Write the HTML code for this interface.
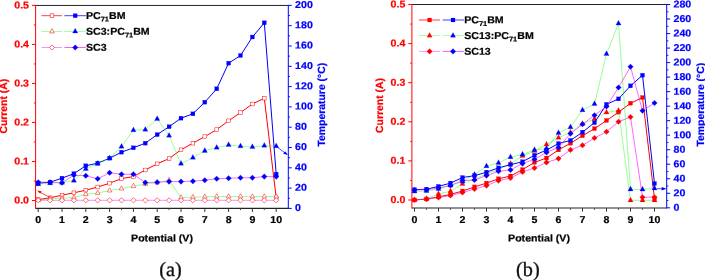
<!DOCTYPE html>
<html><head><meta charset="utf-8"><title>Current and temperature vs potential</title>
<style>
html,body{margin:0;padding:0;background:#fff;}
svg{display:block;font-family:"Liberation Sans",sans-serif;text-rendering:geometricPrecision;}
.cap{font-family:"Liberation Serif",serif;}
</style></head><body>
<svg width="705" height="280" viewBox="0 0 705 280">
<rect width="705" height="280" fill="#fff"/>
<line x1="35.6" y1="5.45" x2="288.3" y2="5.45" stroke="#222" stroke-width="1"/>
<line x1="35.6" y1="208.4" x2="288.3" y2="208.4" stroke="#222" stroke-width="1.1"/>
<line x1="38.20" y1="208.4" x2="38.20" y2="212.0" stroke="#333" stroke-width="1"/>
<text transform="translate(38.20,223.10) scale(1.06,1) rotate(0.05)" text-anchor="middle" font-size="10" font-weight="bold" fill="#000" stroke="#000" stroke-width="0.22">0</text>
<line x1="50.10" y1="208.4" x2="50.10" y2="210.20000000000002" stroke="#444" stroke-width="0.9"/>
<line x1="62.00" y1="208.4" x2="62.00" y2="212.0" stroke="#333" stroke-width="1"/>
<text transform="translate(62.00,223.10) scale(1.06,1) rotate(0.05)" text-anchor="middle" font-size="10" font-weight="bold" fill="#000" stroke="#000" stroke-width="0.22">1</text>
<line x1="73.90" y1="208.4" x2="73.90" y2="210.20000000000002" stroke="#444" stroke-width="0.9"/>
<line x1="85.80" y1="208.4" x2="85.80" y2="212.0" stroke="#333" stroke-width="1"/>
<text transform="translate(85.80,223.10) scale(1.06,1) rotate(0.05)" text-anchor="middle" font-size="10" font-weight="bold" fill="#000" stroke="#000" stroke-width="0.22">2</text>
<line x1="97.70" y1="208.4" x2="97.70" y2="210.20000000000002" stroke="#444" stroke-width="0.9"/>
<line x1="109.60" y1="208.4" x2="109.60" y2="212.0" stroke="#333" stroke-width="1"/>
<text transform="translate(109.60,223.10) scale(1.06,1) rotate(0.05)" text-anchor="middle" font-size="10" font-weight="bold" fill="#000" stroke="#000" stroke-width="0.22">3</text>
<line x1="121.50" y1="208.4" x2="121.50" y2="210.20000000000002" stroke="#444" stroke-width="0.9"/>
<line x1="133.40" y1="208.4" x2="133.40" y2="212.0" stroke="#333" stroke-width="1"/>
<text transform="translate(133.40,223.10) scale(1.06,1) rotate(0.05)" text-anchor="middle" font-size="10" font-weight="bold" fill="#000" stroke="#000" stroke-width="0.22">4</text>
<line x1="145.30" y1="208.4" x2="145.30" y2="210.20000000000002" stroke="#444" stroke-width="0.9"/>
<line x1="157.20" y1="208.4" x2="157.20" y2="212.0" stroke="#333" stroke-width="1"/>
<text transform="translate(157.20,223.10) scale(1.06,1) rotate(0.05)" text-anchor="middle" font-size="10" font-weight="bold" fill="#000" stroke="#000" stroke-width="0.22">5</text>
<line x1="169.10" y1="208.4" x2="169.10" y2="210.20000000000002" stroke="#444" stroke-width="0.9"/>
<line x1="181.00" y1="208.4" x2="181.00" y2="212.0" stroke="#333" stroke-width="1"/>
<text transform="translate(181.00,223.10) scale(1.06,1) rotate(0.05)" text-anchor="middle" font-size="10" font-weight="bold" fill="#000" stroke="#000" stroke-width="0.22">6</text>
<line x1="192.90" y1="208.4" x2="192.90" y2="210.20000000000002" stroke="#444" stroke-width="0.9"/>
<line x1="204.80" y1="208.4" x2="204.80" y2="212.0" stroke="#333" stroke-width="1"/>
<text transform="translate(204.80,223.10) scale(1.06,1) rotate(0.05)" text-anchor="middle" font-size="10" font-weight="bold" fill="#000" stroke="#000" stroke-width="0.22">7</text>
<line x1="216.70" y1="208.4" x2="216.70" y2="210.20000000000002" stroke="#444" stroke-width="0.9"/>
<line x1="228.60" y1="208.4" x2="228.60" y2="212.0" stroke="#333" stroke-width="1"/>
<text transform="translate(228.60,223.10) scale(1.06,1) rotate(0.05)" text-anchor="middle" font-size="10" font-weight="bold" fill="#000" stroke="#000" stroke-width="0.22">8</text>
<line x1="240.50" y1="208.4" x2="240.50" y2="210.20000000000002" stroke="#444" stroke-width="0.9"/>
<line x1="252.40" y1="208.4" x2="252.40" y2="212.0" stroke="#333" stroke-width="1"/>
<text transform="translate(252.40,223.10) scale(1.06,1) rotate(0.05)" text-anchor="middle" font-size="10" font-weight="bold" fill="#000" stroke="#000" stroke-width="0.22">9</text>
<line x1="264.30" y1="208.4" x2="264.30" y2="210.20000000000002" stroke="#444" stroke-width="0.9"/>
<line x1="276.20" y1="208.4" x2="276.20" y2="212.0" stroke="#333" stroke-width="1"/>
<text transform="translate(276.20,223.10) scale(1.06,1) rotate(0.05)" text-anchor="middle" font-size="10" font-weight="bold" fill="#000" stroke="#000" stroke-width="0.22">10</text>
<line x1="35.6" y1="4.95" x2="35.6" y2="208.9" stroke="#ff0000" stroke-width="1"/>
<line x1="32.0" y1="200.50" x2="35.6" y2="200.50" stroke="#ff0000" stroke-width="1"/>
<text transform="translate(29.00,203.50) scale(1.06,1) rotate(0.05)" text-anchor="end" font-size="10" font-weight="bold" fill="#ff0000" stroke="#ff0000" stroke-width="0.22">0.0</text>
<line x1="33.800000000000004" y1="180.99" x2="35.6" y2="180.99" stroke="#ff0000" stroke-width="0.9"/>
<line x1="32.0" y1="161.48" x2="35.6" y2="161.48" stroke="#ff0000" stroke-width="1"/>
<text transform="translate(29.00,164.48) scale(1.06,1) rotate(0.05)" text-anchor="end" font-size="10" font-weight="bold" fill="#ff0000" stroke="#ff0000" stroke-width="0.22">0.1</text>
<line x1="33.800000000000004" y1="141.97" x2="35.6" y2="141.97" stroke="#ff0000" stroke-width="0.9"/>
<line x1="32.0" y1="122.46" x2="35.6" y2="122.46" stroke="#ff0000" stroke-width="1"/>
<text transform="translate(29.00,125.46) scale(1.06,1) rotate(0.05)" text-anchor="end" font-size="10" font-weight="bold" fill="#ff0000" stroke="#ff0000" stroke-width="0.22">0.2</text>
<line x1="33.800000000000004" y1="102.95" x2="35.6" y2="102.95" stroke="#ff0000" stroke-width="0.9"/>
<line x1="32.0" y1="83.44" x2="35.6" y2="83.44" stroke="#ff0000" stroke-width="1"/>
<text transform="translate(29.00,86.44) scale(1.06,1) rotate(0.05)" text-anchor="end" font-size="10" font-weight="bold" fill="#ff0000" stroke="#ff0000" stroke-width="0.22">0.3</text>
<line x1="33.800000000000004" y1="63.93" x2="35.6" y2="63.93" stroke="#ff0000" stroke-width="0.9"/>
<line x1="32.0" y1="44.42" x2="35.6" y2="44.42" stroke="#ff0000" stroke-width="1"/>
<text transform="translate(29.00,47.42) scale(1.06,1) rotate(0.05)" text-anchor="end" font-size="10" font-weight="bold" fill="#ff0000" stroke="#ff0000" stroke-width="0.22">0.4</text>
<line x1="33.800000000000004" y1="24.91" x2="35.6" y2="24.91" stroke="#ff0000" stroke-width="0.9"/>
<line x1="32.0" y1="5.40" x2="35.6" y2="5.40" stroke="#ff0000" stroke-width="1"/>
<text transform="translate(29.00,8.40) scale(1.06,1) rotate(0.05)" text-anchor="end" font-size="10" font-weight="bold" fill="#ff0000" stroke="#ff0000" stroke-width="0.22">0.5</text>
<line x1="288.3" y1="4.95" x2="288.3" y2="208.9" stroke="#0000ff" stroke-width="1"/>
<line x1="288.3" y1="208.40" x2="291.7" y2="208.40" stroke="#0000ff" stroke-width="1"/>
<text transform="translate(295.10,211.00) scale(1.06,1) rotate(0.05)" text-anchor="start" font-size="10" font-weight="bold" fill="#0000ff" stroke="#0000ff" stroke-width="0.22">0</text>
<line x1="288.3" y1="198.25" x2="290.0" y2="198.25" stroke="#0000ff" stroke-width="0.9"/>
<line x1="288.3" y1="188.10" x2="291.7" y2="188.10" stroke="#0000ff" stroke-width="1"/>
<text transform="translate(295.10,190.70) scale(1.06,1) rotate(0.05)" text-anchor="start" font-size="10" font-weight="bold" fill="#0000ff" stroke="#0000ff" stroke-width="0.22">20</text>
<line x1="288.3" y1="177.95" x2="290.0" y2="177.95" stroke="#0000ff" stroke-width="0.9"/>
<line x1="288.3" y1="167.80" x2="291.7" y2="167.80" stroke="#0000ff" stroke-width="1"/>
<text transform="translate(295.10,170.40) scale(1.06,1) rotate(0.05)" text-anchor="start" font-size="10" font-weight="bold" fill="#0000ff" stroke="#0000ff" stroke-width="0.22">40</text>
<line x1="288.3" y1="157.65" x2="290.0" y2="157.65" stroke="#0000ff" stroke-width="0.9"/>
<line x1="288.3" y1="147.50" x2="291.7" y2="147.50" stroke="#0000ff" stroke-width="1"/>
<text transform="translate(295.10,150.10) scale(1.06,1) rotate(0.05)" text-anchor="start" font-size="10" font-weight="bold" fill="#0000ff" stroke="#0000ff" stroke-width="0.22">60</text>
<line x1="288.3" y1="137.35" x2="290.0" y2="137.35" stroke="#0000ff" stroke-width="0.9"/>
<line x1="288.3" y1="127.20" x2="291.7" y2="127.20" stroke="#0000ff" stroke-width="1"/>
<text transform="translate(295.10,129.80) scale(1.06,1) rotate(0.05)" text-anchor="start" font-size="10" font-weight="bold" fill="#0000ff" stroke="#0000ff" stroke-width="0.22">80</text>
<line x1="288.3" y1="117.05" x2="290.0" y2="117.05" stroke="#0000ff" stroke-width="0.9"/>
<line x1="288.3" y1="106.90" x2="291.7" y2="106.90" stroke="#0000ff" stroke-width="1"/>
<text transform="translate(295.10,109.50) scale(1.06,1) rotate(0.05)" text-anchor="start" font-size="10" font-weight="bold" fill="#0000ff" stroke="#0000ff" stroke-width="0.22">100</text>
<line x1="288.3" y1="96.75" x2="290.0" y2="96.75" stroke="#0000ff" stroke-width="0.9"/>
<line x1="288.3" y1="86.60" x2="291.7" y2="86.60" stroke="#0000ff" stroke-width="1"/>
<text transform="translate(295.10,89.20) scale(1.06,1) rotate(0.05)" text-anchor="start" font-size="10" font-weight="bold" fill="#0000ff" stroke="#0000ff" stroke-width="0.22">120</text>
<line x1="288.3" y1="76.45" x2="290.0" y2="76.45" stroke="#0000ff" stroke-width="0.9"/>
<line x1="288.3" y1="66.30" x2="291.7" y2="66.30" stroke="#0000ff" stroke-width="1"/>
<text transform="translate(295.10,68.90) scale(1.06,1) rotate(0.05)" text-anchor="start" font-size="10" font-weight="bold" fill="#0000ff" stroke="#0000ff" stroke-width="0.22">140</text>
<line x1="288.3" y1="56.15" x2="290.0" y2="56.15" stroke="#0000ff" stroke-width="0.9"/>
<line x1="288.3" y1="46.00" x2="291.7" y2="46.00" stroke="#0000ff" stroke-width="1"/>
<text transform="translate(295.10,48.60) scale(1.06,1) rotate(0.05)" text-anchor="start" font-size="10" font-weight="bold" fill="#0000ff" stroke="#0000ff" stroke-width="0.22">160</text>
<line x1="288.3" y1="35.85" x2="290.0" y2="35.85" stroke="#0000ff" stroke-width="0.9"/>
<line x1="288.3" y1="25.70" x2="291.7" y2="25.70" stroke="#0000ff" stroke-width="1"/>
<text transform="translate(295.10,28.30) scale(1.06,1) rotate(0.05)" text-anchor="start" font-size="10" font-weight="bold" fill="#0000ff" stroke="#0000ff" stroke-width="0.22">180</text>
<line x1="288.3" y1="15.55" x2="290.0" y2="15.55" stroke="#0000ff" stroke-width="0.9"/>
<line x1="288.3" y1="5.40" x2="291.7" y2="5.40" stroke="#0000ff" stroke-width="1"/>
<text transform="translate(295.10,8.00) scale(1.06,1) rotate(0.05)" text-anchor="start" font-size="10" font-weight="bold" fill="#0000ff" stroke="#0000ff" stroke-width="0.22">200</text>
<text transform="translate(7.3,106.2) rotate(-90)" text-anchor="middle" font-size="10.4" font-weight="bold" fill="#ff0000" stroke="#ff0000" stroke-width="0.2">Current (A)</text>
<text transform="translate(324.6,104.7) rotate(-90)" text-anchor="middle" font-size="10.4" font-weight="bold" fill="#0000ff" stroke="#0000ff" stroke-width="0.2">Temperature (°C)</text>
<text transform="translate(162.00,241.60) scale(1.06,1) rotate(0.05)" text-anchor="middle" font-size="10" font-weight="bold" fill="#000" stroke="#000" stroke-width="0.22">Potential (V)</text>
<text x="170.5" y="275.7" text-anchor="middle" font-size="20.3" class="cap" fill="#111" stroke="#111" stroke-width="0.3">(a)</text>
<polyline points="38.20,199.60 50.10,197.80 62.00,195.20 73.90,192.80 85.80,190.20 97.70,187.00 109.60,183.20 121.50,178.60 133.40,176.60 145.30,170.00 157.20,163.80 169.10,158.60 181.00,149.80 192.90,143.20 204.80,136.60 216.70,129.60 228.60,120.80 240.50,112.60 252.40,104.00 264.30,98.20 276.20,197.80" fill="none" stroke="#ff0000" stroke-width="1.0"/>
<rect x="36.35" y="197.75" width="3.7" height="3.7" fill="#fff" stroke="#ff0000" stroke-width="0.5"/>
<rect x="48.25" y="195.95" width="3.7" height="3.7" fill="#fff" stroke="#ff0000" stroke-width="0.5"/>
<rect x="60.15" y="193.35" width="3.7" height="3.7" fill="#fff" stroke="#ff0000" stroke-width="0.5"/>
<rect x="72.05" y="190.95" width="3.7" height="3.7" fill="#fff" stroke="#ff0000" stroke-width="0.5"/>
<rect x="83.95" y="188.35" width="3.7" height="3.7" fill="#fff" stroke="#ff0000" stroke-width="0.5"/>
<rect x="95.85" y="185.15" width="3.7" height="3.7" fill="#fff" stroke="#ff0000" stroke-width="0.5"/>
<rect x="107.75" y="181.35" width="3.7" height="3.7" fill="#fff" stroke="#ff0000" stroke-width="0.5"/>
<rect x="119.65" y="176.75" width="3.7" height="3.7" fill="#fff" stroke="#ff0000" stroke-width="0.5"/>
<rect x="131.55" y="174.75" width="3.7" height="3.7" fill="#fff" stroke="#ff0000" stroke-width="0.5"/>
<rect x="143.45" y="168.15" width="3.7" height="3.7" fill="#fff" stroke="#ff0000" stroke-width="0.5"/>
<rect x="155.35" y="161.95" width="3.7" height="3.7" fill="#fff" stroke="#ff0000" stroke-width="0.5"/>
<rect x="167.25" y="156.75" width="3.7" height="3.7" fill="#fff" stroke="#ff0000" stroke-width="0.5"/>
<rect x="179.15" y="147.95" width="3.7" height="3.7" fill="#fff" stroke="#ff0000" stroke-width="0.5"/>
<rect x="191.05" y="141.35" width="3.7" height="3.7" fill="#fff" stroke="#ff0000" stroke-width="0.5"/>
<rect x="202.95" y="134.75" width="3.7" height="3.7" fill="#fff" stroke="#ff0000" stroke-width="0.5"/>
<rect x="214.85" y="127.75" width="3.7" height="3.7" fill="#fff" stroke="#ff0000" stroke-width="0.5"/>
<rect x="226.75" y="118.95" width="3.7" height="3.7" fill="#fff" stroke="#ff0000" stroke-width="0.5"/>
<rect x="238.65" y="110.75" width="3.7" height="3.7" fill="#fff" stroke="#ff0000" stroke-width="0.5"/>
<rect x="250.55" y="102.15" width="3.7" height="3.7" fill="#fff" stroke="#ff0000" stroke-width="0.5"/>
<rect x="262.45" y="96.35" width="3.7" height="3.7" fill="#fff" stroke="#ff0000" stroke-width="0.5"/>
<rect x="274.35" y="195.95" width="3.7" height="3.7" fill="#fff" stroke="#ff0000" stroke-width="0.5"/>
<polyline points="38.20,200.20 50.10,198.80 62.00,198.20 73.90,197.60 85.80,194.20 97.70,193.00 109.60,190.60 121.50,188.60 133.40,186.20 145.30,184.00 157.20,182.60 169.10,180.20 181.00,197.60 192.90,197.20 204.80,196.80 216.70,196.60 228.60,196.60 240.50,196.60 252.40,196.60 264.30,196.60 276.20,196.60" fill="none" stroke="#00ff00" stroke-width="0.42"/>
<polygon points="35.90,201.63 40.50,201.63 38.20,197.35" fill="#fff" stroke="#ff0000" stroke-width="0.5"/>
<polygon points="47.80,200.23 52.40,200.23 50.10,195.95" fill="#fff" stroke="#ff0000" stroke-width="0.5"/>
<polygon points="59.70,199.63 64.30,199.63 62.00,195.35" fill="#fff" stroke="#ff0000" stroke-width="0.5"/>
<polygon points="71.60,199.03 76.20,199.03 73.90,194.75" fill="#fff" stroke="#ff0000" stroke-width="0.5"/>
<polygon points="83.50,195.63 88.10,195.63 85.80,191.35" fill="#fff" stroke="#ff0000" stroke-width="0.5"/>
<polygon points="95.40,194.43 100.00,194.43 97.70,190.15" fill="#fff" stroke="#ff0000" stroke-width="0.5"/>
<polygon points="107.30,192.03 111.90,192.03 109.60,187.75" fill="#fff" stroke="#ff0000" stroke-width="0.5"/>
<polygon points="119.20,190.03 123.80,190.03 121.50,185.75" fill="#fff" stroke="#ff0000" stroke-width="0.5"/>
<polygon points="131.10,187.63 135.70,187.63 133.40,183.35" fill="#fff" stroke="#ff0000" stroke-width="0.5"/>
<polygon points="143.00,185.43 147.60,185.43 145.30,181.15" fill="#fff" stroke="#ff0000" stroke-width="0.5"/>
<polygon points="154.90,184.03 159.50,184.03 157.20,179.75" fill="#fff" stroke="#ff0000" stroke-width="0.5"/>
<polygon points="166.80,181.63 171.40,181.63 169.10,177.35" fill="#fff" stroke="#ff0000" stroke-width="0.5"/>
<polygon points="178.70,199.03 183.30,199.03 181.00,194.75" fill="#fff" stroke="#ff0000" stroke-width="0.5"/>
<polygon points="190.60,198.63 195.20,198.63 192.90,194.35" fill="#fff" stroke="#ff0000" stroke-width="0.5"/>
<polygon points="202.50,198.23 207.10,198.23 204.80,193.95" fill="#fff" stroke="#ff0000" stroke-width="0.5"/>
<polygon points="214.40,198.03 219.00,198.03 216.70,193.75" fill="#fff" stroke="#ff0000" stroke-width="0.5"/>
<polygon points="226.30,198.03 230.90,198.03 228.60,193.75" fill="#fff" stroke="#ff0000" stroke-width="0.5"/>
<polygon points="238.20,198.03 242.80,198.03 240.50,193.75" fill="#fff" stroke="#ff0000" stroke-width="0.5"/>
<polygon points="250.10,198.03 254.70,198.03 252.40,193.75" fill="#fff" stroke="#ff0000" stroke-width="0.5"/>
<polygon points="262.00,198.03 266.60,198.03 264.30,193.75" fill="#fff" stroke="#ff0000" stroke-width="0.5"/>
<polygon points="273.90,198.03 278.50,198.03 276.20,193.75" fill="#fff" stroke="#ff0000" stroke-width="0.5"/>
<polyline points="38.20,200.30 50.10,200.30 62.00,200.30 73.90,200.30 85.80,200.30 97.70,200.30 109.60,200.30 121.50,200.30 133.40,200.30 145.30,200.30 157.20,200.30 169.10,200.30 181.00,200.30 192.90,200.30 204.80,200.30 216.70,200.30 228.60,200.30 240.50,200.30 252.40,200.30 264.30,200.30 276.20,200.30" fill="none" stroke="#ff00ff" stroke-width="0.45"/>
<polygon points="35.60,200.30 38.20,197.70 40.80,200.30 38.20,202.90" fill="#fff" stroke="#ff0000" stroke-width="0.55"/>
<polygon points="47.50,200.30 50.10,197.70 52.70,200.30 50.10,202.90" fill="#fff" stroke="#ff0000" stroke-width="0.55"/>
<polygon points="59.40,200.30 62.00,197.70 64.60,200.30 62.00,202.90" fill="#fff" stroke="#ff0000" stroke-width="0.55"/>
<polygon points="71.30,200.30 73.90,197.70 76.50,200.30 73.90,202.90" fill="#fff" stroke="#ff0000" stroke-width="0.55"/>
<polygon points="83.20,200.30 85.80,197.70 88.40,200.30 85.80,202.90" fill="#fff" stroke="#ff0000" stroke-width="0.55"/>
<polygon points="95.10,200.30 97.70,197.70 100.30,200.30 97.70,202.90" fill="#fff" stroke="#ff0000" stroke-width="0.55"/>
<polygon points="107.00,200.30 109.60,197.70 112.20,200.30 109.60,202.90" fill="#fff" stroke="#ff0000" stroke-width="0.55"/>
<polygon points="118.90,200.30 121.50,197.70 124.10,200.30 121.50,202.90" fill="#fff" stroke="#ff0000" stroke-width="0.55"/>
<polygon points="130.80,200.30 133.40,197.70 136.00,200.30 133.40,202.90" fill="#fff" stroke="#ff0000" stroke-width="0.55"/>
<polygon points="142.70,200.30 145.30,197.70 147.90,200.30 145.30,202.90" fill="#fff" stroke="#ff0000" stroke-width="0.55"/>
<polygon points="154.60,200.30 157.20,197.70 159.80,200.30 157.20,202.90" fill="#fff" stroke="#ff0000" stroke-width="0.55"/>
<polygon points="166.50,200.30 169.10,197.70 171.70,200.30 169.10,202.90" fill="#fff" stroke="#ff0000" stroke-width="0.55"/>
<polygon points="178.40,200.30 181.00,197.70 183.60,200.30 181.00,202.90" fill="#fff" stroke="#ff0000" stroke-width="0.55"/>
<polygon points="190.30,200.30 192.90,197.70 195.50,200.30 192.90,202.90" fill="#fff" stroke="#ff0000" stroke-width="0.55"/>
<polygon points="202.20,200.30 204.80,197.70 207.40,200.30 204.80,202.90" fill="#fff" stroke="#ff0000" stroke-width="0.55"/>
<polygon points="214.10,200.30 216.70,197.70 219.30,200.30 216.70,202.90" fill="#fff" stroke="#ff0000" stroke-width="0.55"/>
<polygon points="226.00,200.30 228.60,197.70 231.20,200.30 228.60,202.90" fill="#fff" stroke="#ff0000" stroke-width="0.55"/>
<polygon points="237.90,200.30 240.50,197.70 243.10,200.30 240.50,202.90" fill="#fff" stroke="#ff0000" stroke-width="0.55"/>
<polygon points="249.80,200.30 252.40,197.70 255.00,200.30 252.40,202.90" fill="#fff" stroke="#ff0000" stroke-width="0.55"/>
<polygon points="261.70,200.30 264.30,197.70 266.90,200.30 264.30,202.90" fill="#fff" stroke="#ff0000" stroke-width="0.55"/>
<polygon points="273.60,200.30 276.20,197.70 278.80,200.30 276.20,202.90" fill="#fff" stroke="#ff0000" stroke-width="0.55"/>
<polyline points="38.20,183.20 50.10,182.20 62.00,178.20 73.90,173.60 85.80,165.80 97.70,163.20 109.60,158.20 121.50,152.20 133.40,147.80 145.30,143.20 157.20,134.60 169.10,126.70 181.00,118.20 192.90,113.80 204.80,102.20 216.70,88.80 228.60,63.20 240.50,55.50 252.40,37.00 264.30,22.80 276.20,174.20" fill="none" stroke="#0000ff" stroke-width="1.0"/>
<rect x="36.20" y="181.20" width="4.0" height="4.0" fill="#0000ff" stroke="#0000ff" stroke-width="0.2"/>
<rect x="48.10" y="180.20" width="4.0" height="4.0" fill="#0000ff" stroke="#0000ff" stroke-width="0.2"/>
<rect x="60.00" y="176.20" width="4.0" height="4.0" fill="#0000ff" stroke="#0000ff" stroke-width="0.2"/>
<rect x="71.90" y="171.60" width="4.0" height="4.0" fill="#0000ff" stroke="#0000ff" stroke-width="0.2"/>
<rect x="83.80" y="163.80" width="4.0" height="4.0" fill="#0000ff" stroke="#0000ff" stroke-width="0.2"/>
<rect x="95.70" y="161.20" width="4.0" height="4.0" fill="#0000ff" stroke="#0000ff" stroke-width="0.2"/>
<rect x="107.60" y="156.20" width="4.0" height="4.0" fill="#0000ff" stroke="#0000ff" stroke-width="0.2"/>
<rect x="119.50" y="150.20" width="4.0" height="4.0" fill="#0000ff" stroke="#0000ff" stroke-width="0.2"/>
<rect x="131.40" y="145.80" width="4.0" height="4.0" fill="#0000ff" stroke="#0000ff" stroke-width="0.2"/>
<rect x="143.30" y="141.20" width="4.0" height="4.0" fill="#0000ff" stroke="#0000ff" stroke-width="0.2"/>
<rect x="155.20" y="132.60" width="4.0" height="4.0" fill="#0000ff" stroke="#0000ff" stroke-width="0.2"/>
<rect x="167.10" y="124.70" width="4.0" height="4.0" fill="#0000ff" stroke="#0000ff" stroke-width="0.2"/>
<rect x="179.00" y="116.20" width="4.0" height="4.0" fill="#0000ff" stroke="#0000ff" stroke-width="0.2"/>
<rect x="190.90" y="111.80" width="4.0" height="4.0" fill="#0000ff" stroke="#0000ff" stroke-width="0.2"/>
<rect x="202.80" y="100.20" width="4.0" height="4.0" fill="#0000ff" stroke="#0000ff" stroke-width="0.2"/>
<rect x="214.70" y="86.80" width="4.0" height="4.0" fill="#0000ff" stroke="#0000ff" stroke-width="0.2"/>
<rect x="226.60" y="61.20" width="4.0" height="4.0" fill="#0000ff" stroke="#0000ff" stroke-width="0.2"/>
<rect x="238.50" y="53.50" width="4.0" height="4.0" fill="#0000ff" stroke="#0000ff" stroke-width="0.2"/>
<rect x="250.40" y="35.00" width="4.0" height="4.0" fill="#0000ff" stroke="#0000ff" stroke-width="0.2"/>
<rect x="262.30" y="20.80" width="4.0" height="4.0" fill="#0000ff" stroke="#0000ff" stroke-width="0.2"/>
<rect x="274.20" y="172.20" width="4.0" height="4.0" fill="#0000ff" stroke="#0000ff" stroke-width="0.2"/>
<polyline points="38.20,184.20 50.10,183.20 62.00,182.60 73.90,180.60 85.80,169.00 97.70,163.60 109.60,158.20 121.50,146.60 133.40,130.20 145.30,129.60 157.20,119.00 169.10,135.60 181.00,163.60 192.90,157.60 204.80,150.80 216.70,147.60 228.60,145.00 240.50,146.20 252.40,147.00 264.30,145.60 276.20,146.20" fill="none" stroke="#00ff00" stroke-width="0.42"/>
<polygon points="35.60,185.81 40.80,185.81 38.20,180.98" fill="#0000ff" stroke="#0000ff" stroke-width="0.2"/>
<polygon points="47.50,184.81 52.70,184.81 50.10,179.98" fill="#0000ff" stroke="#0000ff" stroke-width="0.2"/>
<polygon points="59.40,184.21 64.60,184.21 62.00,179.38" fill="#0000ff" stroke="#0000ff" stroke-width="0.2"/>
<polygon points="71.30,182.21 76.50,182.21 73.90,177.38" fill="#0000ff" stroke="#0000ff" stroke-width="0.2"/>
<polygon points="83.20,170.61 88.40,170.61 85.80,165.78" fill="#0000ff" stroke="#0000ff" stroke-width="0.2"/>
<polygon points="95.10,165.21 100.30,165.21 97.70,160.38" fill="#0000ff" stroke="#0000ff" stroke-width="0.2"/>
<polygon points="107.00,159.81 112.20,159.81 109.60,154.98" fill="#0000ff" stroke="#0000ff" stroke-width="0.2"/>
<polygon points="118.90,148.21 124.10,148.21 121.50,143.38" fill="#0000ff" stroke="#0000ff" stroke-width="0.2"/>
<polygon points="130.80,131.81 136.00,131.81 133.40,126.98" fill="#0000ff" stroke="#0000ff" stroke-width="0.2"/>
<polygon points="142.70,131.21 147.90,131.21 145.30,126.38" fill="#0000ff" stroke="#0000ff" stroke-width="0.2"/>
<polygon points="154.60,120.61 159.80,120.61 157.20,115.78" fill="#0000ff" stroke="#0000ff" stroke-width="0.2"/>
<polygon points="166.50,137.21 171.70,137.21 169.10,132.38" fill="#0000ff" stroke="#0000ff" stroke-width="0.2"/>
<polygon points="178.40,165.21 183.60,165.21 181.00,160.38" fill="#0000ff" stroke="#0000ff" stroke-width="0.2"/>
<polygon points="190.30,159.21 195.50,159.21 192.90,154.38" fill="#0000ff" stroke="#0000ff" stroke-width="0.2"/>
<polygon points="202.20,152.41 207.40,152.41 204.80,147.58" fill="#0000ff" stroke="#0000ff" stroke-width="0.2"/>
<polygon points="214.10,149.21 219.30,149.21 216.70,144.38" fill="#0000ff" stroke="#0000ff" stroke-width="0.2"/>
<polygon points="226.00,146.61 231.20,146.61 228.60,141.78" fill="#0000ff" stroke="#0000ff" stroke-width="0.2"/>
<polygon points="237.90,147.81 243.10,147.81 240.50,142.98" fill="#0000ff" stroke="#0000ff" stroke-width="0.2"/>
<polygon points="249.80,148.61 255.00,148.61 252.40,143.78" fill="#0000ff" stroke="#0000ff" stroke-width="0.2"/>
<polygon points="261.70,147.21 266.90,147.21 264.30,142.38" fill="#0000ff" stroke="#0000ff" stroke-width="0.2"/>
<polygon points="273.60,147.81 278.80,147.81 276.20,142.98" fill="#0000ff" stroke="#0000ff" stroke-width="0.2"/>
<polyline points="38.20,182.20 50.10,182.20 62.00,182.80 73.90,175.20 85.80,175.80 97.70,178.80 109.60,172.80 121.50,174.20 133.40,174.20 145.30,182.60 157.20,182.20 169.10,181.60 181.00,181.60 192.90,181.20 204.80,180.20 216.70,178.80 228.60,178.20 240.50,177.80 252.40,177.80 264.30,176.60 276.20,176.60" fill="none" stroke="#ff00ff" stroke-width="0.6"/>
<polygon points="35.40,182.20 38.20,179.40 41.00,182.20 38.20,185.00" fill="#0000ff" stroke="#0000ff" stroke-width="0.2"/>
<polygon points="47.30,182.20 50.10,179.40 52.90,182.20 50.10,185.00" fill="#0000ff" stroke="#0000ff" stroke-width="0.2"/>
<polygon points="59.20,182.80 62.00,180.00 64.80,182.80 62.00,185.60" fill="#0000ff" stroke="#0000ff" stroke-width="0.2"/>
<polygon points="71.10,175.20 73.90,172.40 76.70,175.20 73.90,178.00" fill="#0000ff" stroke="#0000ff" stroke-width="0.2"/>
<polygon points="83.00,175.80 85.80,173.00 88.60,175.80 85.80,178.60" fill="#0000ff" stroke="#0000ff" stroke-width="0.2"/>
<polygon points="94.90,178.80 97.70,176.00 100.50,178.80 97.70,181.60" fill="#0000ff" stroke="#0000ff" stroke-width="0.2"/>
<polygon points="106.80,172.80 109.60,170.00 112.40,172.80 109.60,175.60" fill="#0000ff" stroke="#0000ff" stroke-width="0.2"/>
<polygon points="118.70,174.20 121.50,171.40 124.30,174.20 121.50,177.00" fill="#0000ff" stroke="#0000ff" stroke-width="0.2"/>
<polygon points="130.60,174.20 133.40,171.40 136.20,174.20 133.40,177.00" fill="#0000ff" stroke="#0000ff" stroke-width="0.2"/>
<polygon points="142.50,182.60 145.30,179.80 148.10,182.60 145.30,185.40" fill="#0000ff" stroke="#0000ff" stroke-width="0.2"/>
<polygon points="154.40,182.20 157.20,179.40 160.00,182.20 157.20,185.00" fill="#0000ff" stroke="#0000ff" stroke-width="0.2"/>
<polygon points="166.30,181.60 169.10,178.80 171.90,181.60 169.10,184.40" fill="#0000ff" stroke="#0000ff" stroke-width="0.2"/>
<polygon points="178.20,181.60 181.00,178.80 183.80,181.60 181.00,184.40" fill="#0000ff" stroke="#0000ff" stroke-width="0.2"/>
<polygon points="190.10,181.20 192.90,178.40 195.70,181.20 192.90,184.00" fill="#0000ff" stroke="#0000ff" stroke-width="0.2"/>
<polygon points="202.00,180.20 204.80,177.40 207.60,180.20 204.80,183.00" fill="#0000ff" stroke="#0000ff" stroke-width="0.2"/>
<polygon points="213.90,178.80 216.70,176.00 219.50,178.80 216.70,181.60" fill="#0000ff" stroke="#0000ff" stroke-width="0.2"/>
<polygon points="225.80,178.20 228.60,175.40 231.40,178.20 228.60,181.00" fill="#0000ff" stroke="#0000ff" stroke-width="0.2"/>
<polygon points="237.70,177.80 240.50,175.00 243.30,177.80 240.50,180.60" fill="#0000ff" stroke="#0000ff" stroke-width="0.2"/>
<polygon points="249.60,177.80 252.40,175.00 255.20,177.80 252.40,180.60" fill="#0000ff" stroke="#0000ff" stroke-width="0.2"/>
<polygon points="261.50,176.60 264.30,173.80 267.10,176.60 264.30,179.40" fill="#0000ff" stroke="#0000ff" stroke-width="0.2"/>
<polygon points="273.40,176.60 276.20,173.80 279.00,176.60 276.20,179.40" fill="#0000ff" stroke="#0000ff" stroke-width="0.2"/>
<line x1="50" y1="197.6" x2="38.5" y2="191.3" stroke="#ff0000" stroke-width="0.7"/>
<polygon points="37.2,190.6 41.6,191.2 40.2,193.8" fill="#ff0000"/>
<line x1="276.4" y1="146.4" x2="286.6" y2="154.2" stroke="#0000ff" stroke-width="0.7"/>
<polygon points="287.8,155.1 283.2,153.8 285.2,151.2" fill="#0000ff"/>
<line x1="41.4" y1="15.7" x2="62" y2="15.7" stroke="#ff0000" stroke-width="0.75"/>
<line x1="64.4" y1="15.7" x2="86" y2="15.7" stroke="#0000ff" stroke-width="0.75"/>
<rect x="50.15" y="13.85" width="3.7" height="3.7" fill="#fff" stroke="#ff0000" stroke-width="0.55"/>
<rect x="73.20" y="13.70" width="4.0" height="4.0" fill="#0000ff" stroke="#0000ff" stroke-width="0.2"/>
<text transform="translate(86.00,19.00) scale(1.06,1) rotate(0.05)" text-anchor="start" font-size="10" font-weight="bold" fill="#000" stroke="#000" stroke-width="0.22">PC<tspan font-size="7" dy="2.6">71</tspan><tspan dy="-2.6">BM</tspan></text>
<line x1="41.4" y1="31.5" x2="62" y2="31.5" stroke="#00ff00" stroke-width="0.36"/>
<line x1="64.4" y1="31.5" x2="86" y2="31.5" stroke="#00ff00" stroke-width="0.36"/>
<polygon points="49.70,32.93 54.30,32.93 52.00,28.65" fill="#fff" stroke="#ff0000" stroke-width="0.55"/>
<polygon points="72.60,33.11 77.80,33.11 75.20,28.28" fill="#0000ff" stroke="#0000ff" stroke-width="0.2"/>
<text transform="translate(86.00,34.80) scale(1.06,1) rotate(0.05)" text-anchor="start" font-size="10" font-weight="bold" fill="#000" stroke="#000" stroke-width="0.22">SC3:PC<tspan font-size="7" dy="2.6">71</tspan><tspan dy="-2.6">BM</tspan></text>
<line x1="41.4" y1="47.5" x2="62" y2="47.5" stroke="#ff00ff" stroke-width="0.45"/>
<line x1="64.4" y1="47.5" x2="86" y2="47.5" stroke="#ff00ff" stroke-width="0.65"/>
<polygon points="49.40,47.50 52.00,44.90 54.60,47.50 52.00,50.10" fill="#fff" stroke="#ff0000" stroke-width="0.55"/>
<polygon points="72.40,47.50 75.20,44.70 78.00,47.50 75.20,50.30" fill="#0000ff" stroke="#0000ff" stroke-width="0.2"/>
<text transform="translate(86.00,50.80) scale(1.06,1) rotate(0.05)" text-anchor="start" font-size="10" font-weight="bold" fill="#000" stroke="#000" stroke-width="0.22">SC3</text>
<line x1="411.9" y1="4.5" x2="666.7" y2="4.5" stroke="#222" stroke-width="1"/>
<line x1="411.9" y1="208.05" x2="666.7" y2="208.05" stroke="#222" stroke-width="1.1"/>
<line x1="414.50" y1="208.05" x2="414.50" y2="211.65" stroke="#333" stroke-width="1"/>
<text transform="translate(414.50,223.10) scale(1.06,1) rotate(0.05)" text-anchor="middle" font-size="10" font-weight="bold" fill="#000" stroke="#000" stroke-width="0.22">0</text>
<line x1="426.50" y1="208.05" x2="426.50" y2="209.85000000000002" stroke="#444" stroke-width="0.9"/>
<line x1="438.50" y1="208.05" x2="438.50" y2="211.65" stroke="#333" stroke-width="1"/>
<text transform="translate(438.50,223.10) scale(1.06,1) rotate(0.05)" text-anchor="middle" font-size="10" font-weight="bold" fill="#000" stroke="#000" stroke-width="0.22">1</text>
<line x1="450.50" y1="208.05" x2="450.50" y2="209.85000000000002" stroke="#444" stroke-width="0.9"/>
<line x1="462.50" y1="208.05" x2="462.50" y2="211.65" stroke="#333" stroke-width="1"/>
<text transform="translate(462.50,223.10) scale(1.06,1) rotate(0.05)" text-anchor="middle" font-size="10" font-weight="bold" fill="#000" stroke="#000" stroke-width="0.22">2</text>
<line x1="474.50" y1="208.05" x2="474.50" y2="209.85000000000002" stroke="#444" stroke-width="0.9"/>
<line x1="486.50" y1="208.05" x2="486.50" y2="211.65" stroke="#333" stroke-width="1"/>
<text transform="translate(486.50,223.10) scale(1.06,1) rotate(0.05)" text-anchor="middle" font-size="10" font-weight="bold" fill="#000" stroke="#000" stroke-width="0.22">3</text>
<line x1="498.50" y1="208.05" x2="498.50" y2="209.85000000000002" stroke="#444" stroke-width="0.9"/>
<line x1="510.50" y1="208.05" x2="510.50" y2="211.65" stroke="#333" stroke-width="1"/>
<text transform="translate(510.50,223.10) scale(1.06,1) rotate(0.05)" text-anchor="middle" font-size="10" font-weight="bold" fill="#000" stroke="#000" stroke-width="0.22">4</text>
<line x1="522.50" y1="208.05" x2="522.50" y2="209.85000000000002" stroke="#444" stroke-width="0.9"/>
<line x1="534.50" y1="208.05" x2="534.50" y2="211.65" stroke="#333" stroke-width="1"/>
<text transform="translate(534.50,223.10) scale(1.06,1) rotate(0.05)" text-anchor="middle" font-size="10" font-weight="bold" fill="#000" stroke="#000" stroke-width="0.22">5</text>
<line x1="546.50" y1="208.05" x2="546.50" y2="209.85000000000002" stroke="#444" stroke-width="0.9"/>
<line x1="558.50" y1="208.05" x2="558.50" y2="211.65" stroke="#333" stroke-width="1"/>
<text transform="translate(558.50,223.10) scale(1.06,1) rotate(0.05)" text-anchor="middle" font-size="10" font-weight="bold" fill="#000" stroke="#000" stroke-width="0.22">6</text>
<line x1="570.50" y1="208.05" x2="570.50" y2="209.85000000000002" stroke="#444" stroke-width="0.9"/>
<line x1="582.50" y1="208.05" x2="582.50" y2="211.65" stroke="#333" stroke-width="1"/>
<text transform="translate(582.50,223.10) scale(1.06,1) rotate(0.05)" text-anchor="middle" font-size="10" font-weight="bold" fill="#000" stroke="#000" stroke-width="0.22">7</text>
<line x1="594.50" y1="208.05" x2="594.50" y2="209.85000000000002" stroke="#444" stroke-width="0.9"/>
<line x1="606.50" y1="208.05" x2="606.50" y2="211.65" stroke="#333" stroke-width="1"/>
<text transform="translate(606.50,223.10) scale(1.06,1) rotate(0.05)" text-anchor="middle" font-size="10" font-weight="bold" fill="#000" stroke="#000" stroke-width="0.22">8</text>
<line x1="618.50" y1="208.05" x2="618.50" y2="209.85000000000002" stroke="#444" stroke-width="0.9"/>
<line x1="630.50" y1="208.05" x2="630.50" y2="211.65" stroke="#333" stroke-width="1"/>
<text transform="translate(630.50,223.10) scale(1.06,1) rotate(0.05)" text-anchor="middle" font-size="10" font-weight="bold" fill="#000" stroke="#000" stroke-width="0.22">9</text>
<line x1="642.50" y1="208.05" x2="642.50" y2="209.85000000000002" stroke="#444" stroke-width="0.9"/>
<line x1="654.50" y1="208.05" x2="654.50" y2="211.65" stroke="#333" stroke-width="1"/>
<text transform="translate(654.50,223.10) scale(1.06,1) rotate(0.05)" text-anchor="middle" font-size="10" font-weight="bold" fill="#000" stroke="#000" stroke-width="0.22">10</text>
<line x1="411.9" y1="4.0" x2="411.9" y2="208.55" stroke="#ff0000" stroke-width="1"/>
<line x1="408.29999999999995" y1="200.00" x2="411.9" y2="200.00" stroke="#ff0000" stroke-width="1"/>
<text transform="translate(405.30,202.95) scale(1.06,1) rotate(0.05)" text-anchor="end" font-size="10" font-weight="bold" fill="#ff0000" stroke="#ff0000" stroke-width="0.22">0.0</text>
<line x1="410.09999999999997" y1="180.45" x2="411.9" y2="180.45" stroke="#ff0000" stroke-width="0.9"/>
<line x1="408.29999999999995" y1="160.90" x2="411.9" y2="160.90" stroke="#ff0000" stroke-width="1"/>
<text transform="translate(405.30,163.85) scale(1.06,1) rotate(0.05)" text-anchor="end" font-size="10" font-weight="bold" fill="#ff0000" stroke="#ff0000" stroke-width="0.22">0.1</text>
<line x1="410.09999999999997" y1="141.35" x2="411.9" y2="141.35" stroke="#ff0000" stroke-width="0.9"/>
<line x1="408.29999999999995" y1="121.80" x2="411.9" y2="121.80" stroke="#ff0000" stroke-width="1"/>
<text transform="translate(405.30,124.75) scale(1.06,1) rotate(0.05)" text-anchor="end" font-size="10" font-weight="bold" fill="#ff0000" stroke="#ff0000" stroke-width="0.22">0.2</text>
<line x1="410.09999999999997" y1="102.25" x2="411.9" y2="102.25" stroke="#ff0000" stroke-width="0.9"/>
<line x1="408.29999999999995" y1="82.70" x2="411.9" y2="82.70" stroke="#ff0000" stroke-width="1"/>
<text transform="translate(405.30,85.65) scale(1.06,1) rotate(0.05)" text-anchor="end" font-size="10" font-weight="bold" fill="#ff0000" stroke="#ff0000" stroke-width="0.22">0.3</text>
<line x1="410.09999999999997" y1="63.15" x2="411.9" y2="63.15" stroke="#ff0000" stroke-width="0.9"/>
<line x1="408.29999999999995" y1="43.60" x2="411.9" y2="43.60" stroke="#ff0000" stroke-width="1"/>
<text transform="translate(405.30,46.55) scale(1.06,1) rotate(0.05)" text-anchor="end" font-size="10" font-weight="bold" fill="#ff0000" stroke="#ff0000" stroke-width="0.22">0.4</text>
<line x1="410.09999999999997" y1="24.05" x2="411.9" y2="24.05" stroke="#ff0000" stroke-width="0.9"/>
<line x1="408.29999999999995" y1="4.50" x2="411.9" y2="4.50" stroke="#ff0000" stroke-width="1"/>
<text transform="translate(405.30,7.45) scale(1.06,1) rotate(0.05)" text-anchor="end" font-size="10" font-weight="bold" fill="#ff0000" stroke="#ff0000" stroke-width="0.22">0.5</text>
<line x1="666.7" y1="4.0" x2="666.7" y2="208.55" stroke="#0000ff" stroke-width="1"/>
<line x1="666.7" y1="207.80" x2="670.1" y2="207.80" stroke="#0000ff" stroke-width="1"/>
<text transform="translate(673.50,210.80) scale(1.06,1) rotate(0.05)" text-anchor="start" font-size="10" font-weight="bold" fill="#0000ff" stroke="#0000ff" stroke-width="0.22">0</text>
<line x1="666.7" y1="200.54" x2="668.4000000000001" y2="200.54" stroke="#0000ff" stroke-width="0.9"/>
<line x1="666.7" y1="193.28" x2="670.1" y2="193.28" stroke="#0000ff" stroke-width="1"/>
<text transform="translate(673.50,196.28) scale(1.06,1) rotate(0.05)" text-anchor="start" font-size="10" font-weight="bold" fill="#0000ff" stroke="#0000ff" stroke-width="0.22">20</text>
<line x1="666.7" y1="186.02" x2="668.4000000000001" y2="186.02" stroke="#0000ff" stroke-width="0.9"/>
<line x1="666.7" y1="178.76" x2="670.1" y2="178.76" stroke="#0000ff" stroke-width="1"/>
<text transform="translate(673.50,181.76) scale(1.06,1) rotate(0.05)" text-anchor="start" font-size="10" font-weight="bold" fill="#0000ff" stroke="#0000ff" stroke-width="0.22">40</text>
<line x1="666.7" y1="171.50" x2="668.4000000000001" y2="171.50" stroke="#0000ff" stroke-width="0.9"/>
<line x1="666.7" y1="164.24" x2="670.1" y2="164.24" stroke="#0000ff" stroke-width="1"/>
<text transform="translate(673.50,167.24) scale(1.06,1) rotate(0.05)" text-anchor="start" font-size="10" font-weight="bold" fill="#0000ff" stroke="#0000ff" stroke-width="0.22">60</text>
<line x1="666.7" y1="156.98" x2="668.4000000000001" y2="156.98" stroke="#0000ff" stroke-width="0.9"/>
<line x1="666.7" y1="149.72" x2="670.1" y2="149.72" stroke="#0000ff" stroke-width="1"/>
<text transform="translate(673.50,152.72) scale(1.06,1) rotate(0.05)" text-anchor="start" font-size="10" font-weight="bold" fill="#0000ff" stroke="#0000ff" stroke-width="0.22">80</text>
<line x1="666.7" y1="142.46" x2="668.4000000000001" y2="142.46" stroke="#0000ff" stroke-width="0.9"/>
<line x1="666.7" y1="135.20" x2="670.1" y2="135.20" stroke="#0000ff" stroke-width="1"/>
<text transform="translate(673.50,138.20) scale(1.06,1) rotate(0.05)" text-anchor="start" font-size="10" font-weight="bold" fill="#0000ff" stroke="#0000ff" stroke-width="0.22">100</text>
<line x1="666.7" y1="127.94" x2="668.4000000000001" y2="127.94" stroke="#0000ff" stroke-width="0.9"/>
<line x1="666.7" y1="120.68" x2="670.1" y2="120.68" stroke="#0000ff" stroke-width="1"/>
<text transform="translate(673.50,123.68) scale(1.06,1) rotate(0.05)" text-anchor="start" font-size="10" font-weight="bold" fill="#0000ff" stroke="#0000ff" stroke-width="0.22">120</text>
<line x1="666.7" y1="113.42" x2="668.4000000000001" y2="113.42" stroke="#0000ff" stroke-width="0.9"/>
<line x1="666.7" y1="106.16" x2="670.1" y2="106.16" stroke="#0000ff" stroke-width="1"/>
<text transform="translate(673.50,109.16) scale(1.06,1) rotate(0.05)" text-anchor="start" font-size="10" font-weight="bold" fill="#0000ff" stroke="#0000ff" stroke-width="0.22">140</text>
<line x1="666.7" y1="98.90" x2="668.4000000000001" y2="98.90" stroke="#0000ff" stroke-width="0.9"/>
<line x1="666.7" y1="91.64" x2="670.1" y2="91.64" stroke="#0000ff" stroke-width="1"/>
<text transform="translate(673.50,94.64) scale(1.06,1) rotate(0.05)" text-anchor="start" font-size="10" font-weight="bold" fill="#0000ff" stroke="#0000ff" stroke-width="0.22">160</text>
<line x1="666.7" y1="84.38" x2="668.4000000000001" y2="84.38" stroke="#0000ff" stroke-width="0.9"/>
<line x1="666.7" y1="77.12" x2="670.1" y2="77.12" stroke="#0000ff" stroke-width="1"/>
<text transform="translate(673.50,80.12) scale(1.06,1) rotate(0.05)" text-anchor="start" font-size="10" font-weight="bold" fill="#0000ff" stroke="#0000ff" stroke-width="0.22">180</text>
<line x1="666.7" y1="69.86" x2="668.4000000000001" y2="69.86" stroke="#0000ff" stroke-width="0.9"/>
<line x1="666.7" y1="62.60" x2="670.1" y2="62.60" stroke="#0000ff" stroke-width="1"/>
<text transform="translate(673.50,65.60) scale(1.06,1) rotate(0.05)" text-anchor="start" font-size="10" font-weight="bold" fill="#0000ff" stroke="#0000ff" stroke-width="0.22">200</text>
<line x1="666.7" y1="55.34" x2="668.4000000000001" y2="55.34" stroke="#0000ff" stroke-width="0.9"/>
<line x1="666.7" y1="48.08" x2="670.1" y2="48.08" stroke="#0000ff" stroke-width="1"/>
<text transform="translate(673.50,51.08) scale(1.06,1) rotate(0.05)" text-anchor="start" font-size="10" font-weight="bold" fill="#0000ff" stroke="#0000ff" stroke-width="0.22">220</text>
<line x1="666.7" y1="40.82" x2="668.4000000000001" y2="40.82" stroke="#0000ff" stroke-width="0.9"/>
<line x1="666.7" y1="33.56" x2="670.1" y2="33.56" stroke="#0000ff" stroke-width="1"/>
<text transform="translate(673.50,36.56) scale(1.06,1) rotate(0.05)" text-anchor="start" font-size="10" font-weight="bold" fill="#0000ff" stroke="#0000ff" stroke-width="0.22">240</text>
<line x1="666.7" y1="26.30" x2="668.4000000000001" y2="26.30" stroke="#0000ff" stroke-width="0.9"/>
<line x1="666.7" y1="19.04" x2="670.1" y2="19.04" stroke="#0000ff" stroke-width="1"/>
<text transform="translate(673.50,22.04) scale(1.06,1) rotate(0.05)" text-anchor="start" font-size="10" font-weight="bold" fill="#0000ff" stroke="#0000ff" stroke-width="0.22">260</text>
<line x1="666.7" y1="11.78" x2="668.4000000000001" y2="11.78" stroke="#0000ff" stroke-width="0.9"/>
<line x1="666.7" y1="4.52" x2="670.1" y2="4.52" stroke="#0000ff" stroke-width="1"/>
<text transform="translate(673.50,7.52) scale(1.06,1) rotate(0.05)" text-anchor="start" font-size="10" font-weight="bold" fill="#0000ff" stroke="#0000ff" stroke-width="0.22">280</text>
<text transform="translate(382.9,105.5) rotate(-90)" text-anchor="middle" font-size="10.4" font-weight="bold" fill="#ff0000" stroke="#ff0000" stroke-width="0.2">Current (A)</text>
<text transform="translate(703.5,104.7) rotate(-90)" text-anchor="middle" font-size="10.4" font-weight="bold" fill="#0000ff" stroke="#0000ff" stroke-width="0.2">Temperature (°C)</text>
<text transform="translate(539.00,241.60) scale(1.06,1) rotate(0.05)" text-anchor="middle" font-size="10" font-weight="bold" fill="#000" stroke="#000" stroke-width="0.22">Potential (V)</text>
<text x="527.9" y="275.8" text-anchor="middle" font-size="20.3" class="cap" fill="#111" stroke="#111" stroke-width="0.3">(b)</text>
<polyline points="414.50,200.00 426.50,199.00 438.50,196.90 450.50,194.40 462.50,191.00 474.50,186.90 486.50,183.10 498.50,178.75 510.50,176.00 522.50,169.60 534.50,162.40 546.50,158.00 558.50,149.90 570.50,143.25 582.50,135.75 594.50,128.60 606.50,120.50 618.50,112.20 630.50,103.25 642.50,97.50 654.50,198.50" fill="none" stroke="#ff0000" stroke-width="1.0"/>
<rect x="412.50" y="198.00" width="4.0" height="4.0" fill="#ff0000" stroke="#ff0000" stroke-width="0.2"/>
<rect x="424.50" y="197.00" width="4.0" height="4.0" fill="#ff0000" stroke="#ff0000" stroke-width="0.2"/>
<rect x="436.50" y="194.90" width="4.0" height="4.0" fill="#ff0000" stroke="#ff0000" stroke-width="0.2"/>
<rect x="448.50" y="192.40" width="4.0" height="4.0" fill="#ff0000" stroke="#ff0000" stroke-width="0.2"/>
<rect x="460.50" y="189.00" width="4.0" height="4.0" fill="#ff0000" stroke="#ff0000" stroke-width="0.2"/>
<rect x="472.50" y="184.90" width="4.0" height="4.0" fill="#ff0000" stroke="#ff0000" stroke-width="0.2"/>
<rect x="484.50" y="181.10" width="4.0" height="4.0" fill="#ff0000" stroke="#ff0000" stroke-width="0.2"/>
<rect x="496.50" y="176.75" width="4.0" height="4.0" fill="#ff0000" stroke="#ff0000" stroke-width="0.2"/>
<rect x="508.50" y="174.00" width="4.0" height="4.0" fill="#ff0000" stroke="#ff0000" stroke-width="0.2"/>
<rect x="520.50" y="167.60" width="4.0" height="4.0" fill="#ff0000" stroke="#ff0000" stroke-width="0.2"/>
<rect x="532.50" y="160.40" width="4.0" height="4.0" fill="#ff0000" stroke="#ff0000" stroke-width="0.2"/>
<rect x="544.50" y="156.00" width="4.0" height="4.0" fill="#ff0000" stroke="#ff0000" stroke-width="0.2"/>
<rect x="556.50" y="147.90" width="4.0" height="4.0" fill="#ff0000" stroke="#ff0000" stroke-width="0.2"/>
<rect x="568.50" y="141.25" width="4.0" height="4.0" fill="#ff0000" stroke="#ff0000" stroke-width="0.2"/>
<rect x="580.50" y="133.75" width="4.0" height="4.0" fill="#ff0000" stroke="#ff0000" stroke-width="0.2"/>
<rect x="592.50" y="126.60" width="4.0" height="4.0" fill="#ff0000" stroke="#ff0000" stroke-width="0.2"/>
<rect x="604.50" y="118.50" width="4.0" height="4.0" fill="#ff0000" stroke="#ff0000" stroke-width="0.2"/>
<rect x="616.50" y="110.20" width="4.0" height="4.0" fill="#ff0000" stroke="#ff0000" stroke-width="0.2"/>
<rect x="628.50" y="101.25" width="4.0" height="4.0" fill="#ff0000" stroke="#ff0000" stroke-width="0.2"/>
<rect x="640.50" y="95.50" width="4.0" height="4.0" fill="#ff0000" stroke="#ff0000" stroke-width="0.2"/>
<rect x="652.50" y="196.50" width="4.0" height="4.0" fill="#ff0000" stroke="#ff0000" stroke-width="0.2"/>
<polyline points="414.50,200.00 426.50,198.60 438.50,194.00 450.50,191.20 462.50,184.00 474.50,179.00 486.50,174.00 498.50,169.50 510.50,163.60 522.50,156.00 534.50,151.00 546.50,144.50 558.50,137.75 570.50,132.40 582.50,123.60 594.50,119.00 606.50,112.50 618.50,110.60 630.50,200.30 642.50,200.30 654.50,200.30" fill="none" stroke="#00ff00" stroke-width="0.42"/>
<polygon points="411.90,201.61 417.10,201.61 414.50,196.78" fill="#ff0000" stroke="#ff0000" stroke-width="0.2"/>
<polygon points="423.90,200.21 429.10,200.21 426.50,195.38" fill="#ff0000" stroke="#ff0000" stroke-width="0.2"/>
<polygon points="435.90,195.61 441.10,195.61 438.50,190.78" fill="#ff0000" stroke="#ff0000" stroke-width="0.2"/>
<polygon points="447.90,192.81 453.10,192.81 450.50,187.98" fill="#ff0000" stroke="#ff0000" stroke-width="0.2"/>
<polygon points="459.90,185.61 465.10,185.61 462.50,180.78" fill="#ff0000" stroke="#ff0000" stroke-width="0.2"/>
<polygon points="471.90,180.61 477.10,180.61 474.50,175.78" fill="#ff0000" stroke="#ff0000" stroke-width="0.2"/>
<polygon points="483.90,175.61 489.10,175.61 486.50,170.78" fill="#ff0000" stroke="#ff0000" stroke-width="0.2"/>
<polygon points="495.90,171.11 501.10,171.11 498.50,166.28" fill="#ff0000" stroke="#ff0000" stroke-width="0.2"/>
<polygon points="507.90,165.21 513.10,165.21 510.50,160.38" fill="#ff0000" stroke="#ff0000" stroke-width="0.2"/>
<polygon points="519.90,157.61 525.10,157.61 522.50,152.78" fill="#ff0000" stroke="#ff0000" stroke-width="0.2"/>
<polygon points="531.90,152.61 537.10,152.61 534.50,147.78" fill="#ff0000" stroke="#ff0000" stroke-width="0.2"/>
<polygon points="543.90,146.11 549.10,146.11 546.50,141.28" fill="#ff0000" stroke="#ff0000" stroke-width="0.2"/>
<polygon points="555.90,139.36 561.10,139.36 558.50,134.53" fill="#ff0000" stroke="#ff0000" stroke-width="0.2"/>
<polygon points="567.90,134.01 573.10,134.01 570.50,129.18" fill="#ff0000" stroke="#ff0000" stroke-width="0.2"/>
<polygon points="579.90,125.21 585.10,125.21 582.50,120.38" fill="#ff0000" stroke="#ff0000" stroke-width="0.2"/>
<polygon points="591.90,120.61 597.10,120.61 594.50,115.78" fill="#ff0000" stroke="#ff0000" stroke-width="0.2"/>
<polygon points="603.90,114.11 609.10,114.11 606.50,109.28" fill="#ff0000" stroke="#ff0000" stroke-width="0.2"/>
<polygon points="615.90,112.21 621.10,112.21 618.50,107.38" fill="#ff0000" stroke="#ff0000" stroke-width="0.2"/>
<polygon points="627.90,201.91 633.10,201.91 630.50,197.08" fill="#ff0000" stroke="#ff0000" stroke-width="0.2"/>
<polygon points="639.90,201.91 645.10,201.91 642.50,197.08" fill="#ff0000" stroke="#ff0000" stroke-width="0.2"/>
<polygon points="651.90,201.91 657.10,201.91 654.50,197.08" fill="#ff0000" stroke="#ff0000" stroke-width="0.2"/>
<polyline points="414.50,200.00 426.50,199.20 438.50,197.50 450.50,195.50 462.50,192.50 474.50,189.00 486.50,185.60 498.50,180.60 510.50,178.00 522.50,171.90 534.50,168.00 546.50,162.40 558.50,158.60 570.50,149.90 582.50,145.30 594.50,138.00 606.50,131.75 618.50,121.75 630.50,117.00 642.50,197.20 654.50,197.20" fill="none" stroke="#ff00ff" stroke-width="0.6"/>
<polygon points="411.70,200.00 414.50,197.20 417.30,200.00 414.50,202.80" fill="#ff0000" stroke="#ff0000" stroke-width="0.2"/>
<polygon points="423.70,199.20 426.50,196.40 429.30,199.20 426.50,202.00" fill="#ff0000" stroke="#ff0000" stroke-width="0.2"/>
<polygon points="435.70,197.50 438.50,194.70 441.30,197.50 438.50,200.30" fill="#ff0000" stroke="#ff0000" stroke-width="0.2"/>
<polygon points="447.70,195.50 450.50,192.70 453.30,195.50 450.50,198.30" fill="#ff0000" stroke="#ff0000" stroke-width="0.2"/>
<polygon points="459.70,192.50 462.50,189.70 465.30,192.50 462.50,195.30" fill="#ff0000" stroke="#ff0000" stroke-width="0.2"/>
<polygon points="471.70,189.00 474.50,186.20 477.30,189.00 474.50,191.80" fill="#ff0000" stroke="#ff0000" stroke-width="0.2"/>
<polygon points="483.70,185.60 486.50,182.80 489.30,185.60 486.50,188.40" fill="#ff0000" stroke="#ff0000" stroke-width="0.2"/>
<polygon points="495.70,180.60 498.50,177.80 501.30,180.60 498.50,183.40" fill="#ff0000" stroke="#ff0000" stroke-width="0.2"/>
<polygon points="507.70,178.00 510.50,175.20 513.30,178.00 510.50,180.80" fill="#ff0000" stroke="#ff0000" stroke-width="0.2"/>
<polygon points="519.70,171.90 522.50,169.10 525.30,171.90 522.50,174.70" fill="#ff0000" stroke="#ff0000" stroke-width="0.2"/>
<polygon points="531.70,168.00 534.50,165.20 537.30,168.00 534.50,170.80" fill="#ff0000" stroke="#ff0000" stroke-width="0.2"/>
<polygon points="543.70,162.40 546.50,159.60 549.30,162.40 546.50,165.20" fill="#ff0000" stroke="#ff0000" stroke-width="0.2"/>
<polygon points="555.70,158.60 558.50,155.80 561.30,158.60 558.50,161.40" fill="#ff0000" stroke="#ff0000" stroke-width="0.2"/>
<polygon points="567.70,149.90 570.50,147.10 573.30,149.90 570.50,152.70" fill="#ff0000" stroke="#ff0000" stroke-width="0.2"/>
<polygon points="579.70,145.30 582.50,142.50 585.30,145.30 582.50,148.10" fill="#ff0000" stroke="#ff0000" stroke-width="0.2"/>
<polygon points="591.70,138.00 594.50,135.20 597.30,138.00 594.50,140.80" fill="#ff0000" stroke="#ff0000" stroke-width="0.2"/>
<polygon points="603.70,131.75 606.50,128.95 609.30,131.75 606.50,134.55" fill="#ff0000" stroke="#ff0000" stroke-width="0.2"/>
<polygon points="615.70,121.75 618.50,118.95 621.30,121.75 618.50,124.55" fill="#ff0000" stroke="#ff0000" stroke-width="0.2"/>
<polygon points="627.70,117.00 630.50,114.20 633.30,117.00 630.50,119.80" fill="#ff0000" stroke="#ff0000" stroke-width="0.2"/>
<polygon points="639.70,197.20 642.50,194.40 645.30,197.20 642.50,200.00" fill="#ff0000" stroke="#ff0000" stroke-width="0.2"/>
<polygon points="651.70,197.20 654.50,194.40 657.30,197.20 654.50,200.00" fill="#ff0000" stroke="#ff0000" stroke-width="0.2"/>
<polyline points="414.50,189.65 426.50,189.21 438.50,186.38 450.50,183.12 462.50,177.53 474.50,175.71 486.50,172.15 498.50,167.87 510.50,164.68 522.50,161.70 534.50,155.31 546.50,150.01 558.50,143.55 570.50,140.43 582.50,132.15 594.50,122.64 606.50,104.35 618.50,98.90 630.50,85.83 642.50,75.23 654.50,183.55" fill="none" stroke="#0000ff" stroke-width="1.0"/>
<rect x="412.50" y="187.65" width="4.0" height="4.0" fill="#0000ff" stroke="#0000ff" stroke-width="0.2"/>
<rect x="424.50" y="187.21" width="4.0" height="4.0" fill="#0000ff" stroke="#0000ff" stroke-width="0.2"/>
<rect x="436.50" y="184.38" width="4.0" height="4.0" fill="#0000ff" stroke="#0000ff" stroke-width="0.2"/>
<rect x="448.50" y="181.12" width="4.0" height="4.0" fill="#0000ff" stroke="#0000ff" stroke-width="0.2"/>
<rect x="460.50" y="175.53" width="4.0" height="4.0" fill="#0000ff" stroke="#0000ff" stroke-width="0.2"/>
<rect x="472.50" y="173.71" width="4.0" height="4.0" fill="#0000ff" stroke="#0000ff" stroke-width="0.2"/>
<rect x="484.50" y="170.15" width="4.0" height="4.0" fill="#0000ff" stroke="#0000ff" stroke-width="0.2"/>
<rect x="496.50" y="165.87" width="4.0" height="4.0" fill="#0000ff" stroke="#0000ff" stroke-width="0.2"/>
<rect x="508.50" y="162.68" width="4.0" height="4.0" fill="#0000ff" stroke="#0000ff" stroke-width="0.2"/>
<rect x="520.50" y="159.70" width="4.0" height="4.0" fill="#0000ff" stroke="#0000ff" stroke-width="0.2"/>
<rect x="532.50" y="153.31" width="4.0" height="4.0" fill="#0000ff" stroke="#0000ff" stroke-width="0.2"/>
<rect x="544.50" y="148.01" width="4.0" height="4.0" fill="#0000ff" stroke="#0000ff" stroke-width="0.2"/>
<rect x="556.50" y="141.55" width="4.0" height="4.0" fill="#0000ff" stroke="#0000ff" stroke-width="0.2"/>
<rect x="568.50" y="138.43" width="4.0" height="4.0" fill="#0000ff" stroke="#0000ff" stroke-width="0.2"/>
<rect x="580.50" y="130.15" width="4.0" height="4.0" fill="#0000ff" stroke="#0000ff" stroke-width="0.2"/>
<rect x="592.50" y="120.64" width="4.0" height="4.0" fill="#0000ff" stroke="#0000ff" stroke-width="0.2"/>
<rect x="604.50" y="102.35" width="4.0" height="4.0" fill="#0000ff" stroke="#0000ff" stroke-width="0.2"/>
<rect x="616.50" y="96.90" width="4.0" height="4.0" fill="#0000ff" stroke="#0000ff" stroke-width="0.2"/>
<rect x="628.50" y="83.83" width="4.0" height="4.0" fill="#0000ff" stroke="#0000ff" stroke-width="0.2"/>
<rect x="640.50" y="73.23" width="4.0" height="4.0" fill="#0000ff" stroke="#0000ff" stroke-width="0.2"/>
<rect x="652.50" y="181.55" width="4.0" height="4.0" fill="#0000ff" stroke="#0000ff" stroke-width="0.2"/>
<polyline points="414.50,191.50 426.50,191.00 438.50,189.00 450.50,185.50 462.50,181.50 474.50,174.60 486.50,166.10 498.50,162.90 510.50,157.10 522.50,154.50 534.50,149.90 546.50,148.50 558.50,133.00 570.50,127.10 582.50,110.10 594.50,104.00 606.50,54.00 618.50,23.50 630.50,189.30 642.50,189.50 654.50,188.30" fill="none" stroke="#00ff00" stroke-width="0.42"/>
<polygon points="411.90,193.11 417.10,193.11 414.50,188.28" fill="#0000ff" stroke="#0000ff" stroke-width="0.2"/>
<polygon points="423.90,192.61 429.10,192.61 426.50,187.78" fill="#0000ff" stroke="#0000ff" stroke-width="0.2"/>
<polygon points="435.90,190.61 441.10,190.61 438.50,185.78" fill="#0000ff" stroke="#0000ff" stroke-width="0.2"/>
<polygon points="447.90,187.11 453.10,187.11 450.50,182.28" fill="#0000ff" stroke="#0000ff" stroke-width="0.2"/>
<polygon points="459.90,183.11 465.10,183.11 462.50,178.28" fill="#0000ff" stroke="#0000ff" stroke-width="0.2"/>
<polygon points="471.90,176.21 477.10,176.21 474.50,171.38" fill="#0000ff" stroke="#0000ff" stroke-width="0.2"/>
<polygon points="483.90,167.71 489.10,167.71 486.50,162.88" fill="#0000ff" stroke="#0000ff" stroke-width="0.2"/>
<polygon points="495.90,164.51 501.10,164.51 498.50,159.68" fill="#0000ff" stroke="#0000ff" stroke-width="0.2"/>
<polygon points="507.90,158.71 513.10,158.71 510.50,153.88" fill="#0000ff" stroke="#0000ff" stroke-width="0.2"/>
<polygon points="519.90,156.11 525.10,156.11 522.50,151.28" fill="#0000ff" stroke="#0000ff" stroke-width="0.2"/>
<polygon points="531.90,151.51 537.10,151.51 534.50,146.68" fill="#0000ff" stroke="#0000ff" stroke-width="0.2"/>
<polygon points="543.90,150.11 549.10,150.11 546.50,145.28" fill="#0000ff" stroke="#0000ff" stroke-width="0.2"/>
<polygon points="555.90,134.61 561.10,134.61 558.50,129.78" fill="#0000ff" stroke="#0000ff" stroke-width="0.2"/>
<polygon points="567.90,128.71 573.10,128.71 570.50,123.88" fill="#0000ff" stroke="#0000ff" stroke-width="0.2"/>
<polygon points="579.90,111.71 585.10,111.71 582.50,106.88" fill="#0000ff" stroke="#0000ff" stroke-width="0.2"/>
<polygon points="591.90,105.61 597.10,105.61 594.50,100.78" fill="#0000ff" stroke="#0000ff" stroke-width="0.2"/>
<polygon points="603.90,55.61 609.10,55.61 606.50,50.78" fill="#0000ff" stroke="#0000ff" stroke-width="0.2"/>
<polygon points="615.90,25.11 621.10,25.11 618.50,20.28" fill="#0000ff" stroke="#0000ff" stroke-width="0.2"/>
<polygon points="627.90,190.91 633.10,190.91 630.50,186.08" fill="#0000ff" stroke="#0000ff" stroke-width="0.2"/>
<polygon points="639.90,191.11 645.10,191.11 642.50,186.28" fill="#0000ff" stroke="#0000ff" stroke-width="0.2"/>
<polygon points="651.90,189.91 657.10,189.91 654.50,185.08" fill="#0000ff" stroke="#0000ff" stroke-width="0.2"/>
<polyline points="414.50,190.00 426.50,189.75 438.50,188.00 450.50,185.50 462.50,180.60 474.50,180.00 486.50,175.60 498.50,171.25 510.50,169.90 522.50,163.60 534.50,159.25 546.50,152.40 558.50,147.40 570.50,133.60 582.50,124.25 594.50,115.25 606.50,106.50 618.50,87.50 630.50,66.75 642.50,110.75 654.50,103.00" fill="none" stroke="#ff00ff" stroke-width="0.6"/>
<polygon points="411.70,190.00 414.50,187.20 417.30,190.00 414.50,192.80" fill="#0000ff" stroke="#0000ff" stroke-width="0.2"/>
<polygon points="423.70,189.75 426.50,186.95 429.30,189.75 426.50,192.55" fill="#0000ff" stroke="#0000ff" stroke-width="0.2"/>
<polygon points="435.70,188.00 438.50,185.20 441.30,188.00 438.50,190.80" fill="#0000ff" stroke="#0000ff" stroke-width="0.2"/>
<polygon points="447.70,185.50 450.50,182.70 453.30,185.50 450.50,188.30" fill="#0000ff" stroke="#0000ff" stroke-width="0.2"/>
<polygon points="459.70,180.60 462.50,177.80 465.30,180.60 462.50,183.40" fill="#0000ff" stroke="#0000ff" stroke-width="0.2"/>
<polygon points="471.70,180.00 474.50,177.20 477.30,180.00 474.50,182.80" fill="#0000ff" stroke="#0000ff" stroke-width="0.2"/>
<polygon points="483.70,175.60 486.50,172.80 489.30,175.60 486.50,178.40" fill="#0000ff" stroke="#0000ff" stroke-width="0.2"/>
<polygon points="495.70,171.25 498.50,168.45 501.30,171.25 498.50,174.05" fill="#0000ff" stroke="#0000ff" stroke-width="0.2"/>
<polygon points="507.70,169.90 510.50,167.10 513.30,169.90 510.50,172.70" fill="#0000ff" stroke="#0000ff" stroke-width="0.2"/>
<polygon points="519.70,163.60 522.50,160.80 525.30,163.60 522.50,166.40" fill="#0000ff" stroke="#0000ff" stroke-width="0.2"/>
<polygon points="531.70,159.25 534.50,156.45 537.30,159.25 534.50,162.05" fill="#0000ff" stroke="#0000ff" stroke-width="0.2"/>
<polygon points="543.70,152.40 546.50,149.60 549.30,152.40 546.50,155.20" fill="#0000ff" stroke="#0000ff" stroke-width="0.2"/>
<polygon points="555.70,147.40 558.50,144.60 561.30,147.40 558.50,150.20" fill="#0000ff" stroke="#0000ff" stroke-width="0.2"/>
<polygon points="567.70,133.60 570.50,130.80 573.30,133.60 570.50,136.40" fill="#0000ff" stroke="#0000ff" stroke-width="0.2"/>
<polygon points="579.70,124.25 582.50,121.45 585.30,124.25 582.50,127.05" fill="#0000ff" stroke="#0000ff" stroke-width="0.2"/>
<polygon points="591.70,115.25 594.50,112.45 597.30,115.25 594.50,118.05" fill="#0000ff" stroke="#0000ff" stroke-width="0.2"/>
<polygon points="603.70,106.50 606.50,103.70 609.30,106.50 606.50,109.30" fill="#0000ff" stroke="#0000ff" stroke-width="0.2"/>
<polygon points="615.70,87.50 618.50,84.70 621.30,87.50 618.50,90.30" fill="#0000ff" stroke="#0000ff" stroke-width="0.2"/>
<polygon points="627.70,66.75 630.50,63.95 633.30,66.75 630.50,69.55" fill="#0000ff" stroke="#0000ff" stroke-width="0.2"/>
<polygon points="639.70,110.75 642.50,107.95 645.30,110.75 642.50,113.55" fill="#0000ff" stroke="#0000ff" stroke-width="0.2"/>
<polygon points="651.70,103.00 654.50,100.20 657.30,103.00 654.50,105.80" fill="#0000ff" stroke="#0000ff" stroke-width="0.2"/>
<line x1="657" y1="188.75" x2="663" y2="188.75" stroke="#0000ff" stroke-width="0.7"/>
<polygon points="666.6,188.75 661.6,186.9 661.6,190.6" fill="#0000ff"/>
<line x1="419" y1="20" x2="440" y2="20" stroke="#ff0000" stroke-width="0.75"/>
<line x1="442.6" y1="20" x2="464" y2="20" stroke="#0000ff" stroke-width="0.75"/>
<rect x="427.60" y="18.00" width="4.0" height="4.0" fill="#ff0000" stroke="#ff0000" stroke-width="0.2"/>
<rect x="451.00" y="18.00" width="4.0" height="4.0" fill="#0000ff" stroke="#0000ff" stroke-width="0.2"/>
<text transform="translate(464.20,23.30) scale(1.06,1) rotate(0.05)" text-anchor="start" font-size="10" font-weight="bold" fill="#000" stroke="#000" stroke-width="0.22">PC<tspan font-size="7" dy="2.6">71</tspan><tspan dy="-2.6">BM</tspan></text>
<line x1="419" y1="35.6" x2="440" y2="35.6" stroke="#00ff00" stroke-width="0.36"/>
<line x1="442.6" y1="35.6" x2="464" y2="35.6" stroke="#00ff00" stroke-width="0.36"/>
<polygon points="427.00,37.21 432.20,37.21 429.60,32.38" fill="#ff0000" stroke="#ff0000" stroke-width="0.2"/>
<polygon points="450.40,37.21 455.60,37.21 453.00,32.38" fill="#0000ff" stroke="#0000ff" stroke-width="0.2"/>
<text transform="translate(464.20,38.90) scale(1.06,1) rotate(0.05)" text-anchor="start" font-size="10" font-weight="bold" fill="#000" stroke="#000" stroke-width="0.22">SC13:PC<tspan font-size="7" dy="2.6">71</tspan><tspan dy="-2.6">BM</tspan></text>
<line x1="419" y1="51.4" x2="440" y2="51.4" stroke="#ff00ff" stroke-width="0.45"/>
<line x1="442.6" y1="51.4" x2="464" y2="51.4" stroke="#ff00ff" stroke-width="0.65"/>
<polygon points="426.80,51.40 429.60,48.60 432.40,51.40 429.60,54.20" fill="#ff0000" stroke="#ff0000" stroke-width="0.2"/>
<polygon points="450.20,51.40 453.00,48.60 455.80,51.40 453.00,54.20" fill="#0000ff" stroke="#0000ff" stroke-width="0.2"/>
<text transform="translate(464.20,54.70) scale(1.06,1) rotate(0.05)" text-anchor="start" font-size="10" font-weight="bold" fill="#000" stroke="#000" stroke-width="0.22">SC13</text>
</svg></body></html>
